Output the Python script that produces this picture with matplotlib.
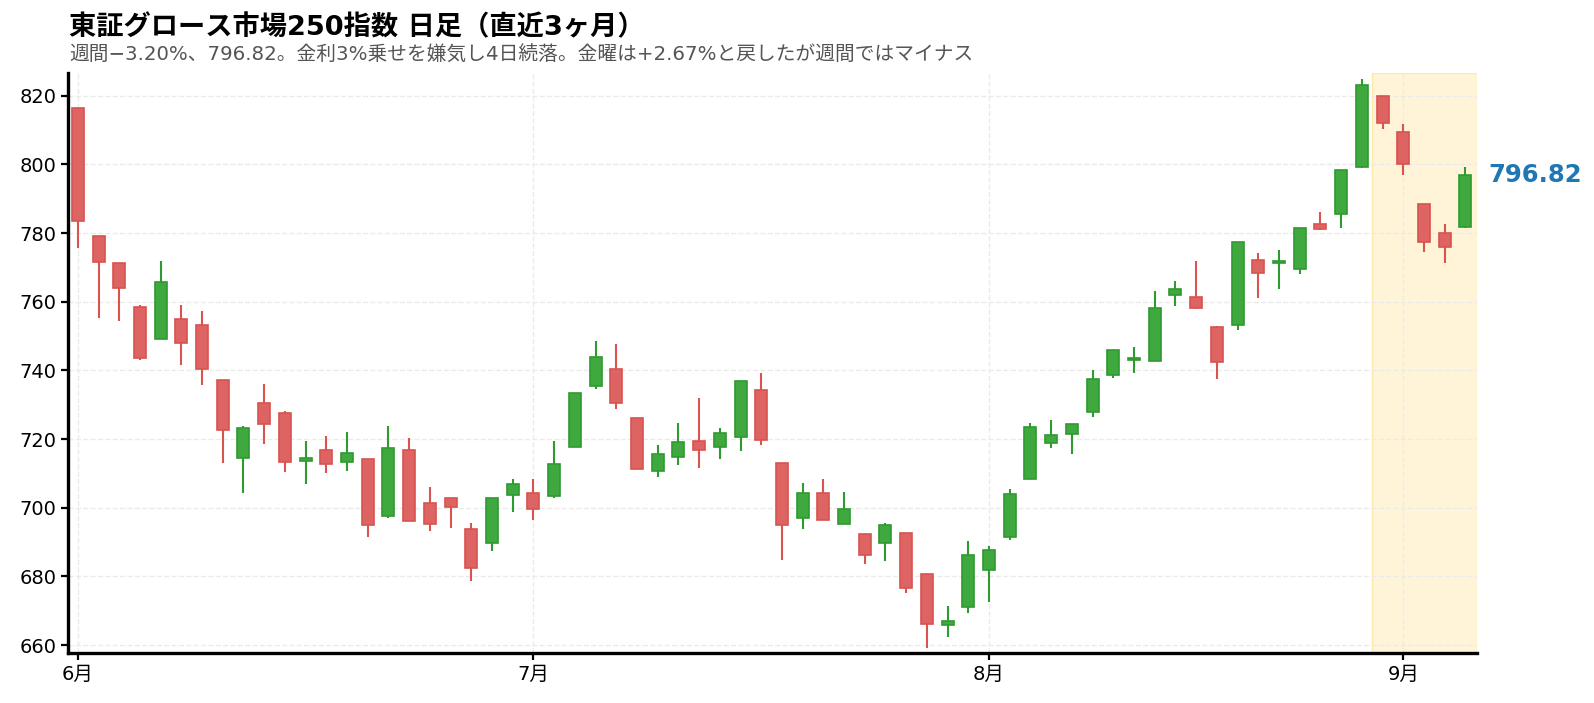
import matplotlib
matplotlib.use("Agg")
import matplotlib.pyplot as plt
import numpy as np

plt.rcParams['font.family'] = ['DejaVu Sans', 'Noto Sans CJK JP']

title = "東証グロース市場250指数 日足（直近3ヶ月）"
subtitle = "週間−3.20%、796.82。金利3%乗せを嫌気し4日続落。金曜は+2.67%と戻したが週間ではマイナス"

opens = [816.3, 779.0, 771.2, 758.4, 749.0, 755.0, 753.3, 737.1, 714.5, 730.5,
         727.6, 713.5, 716.8, 713.4, 714.2, 697.7, 716.8, 701.4, 702.7, 693.8,
         689.6, 703.6, 704.4, 703.5, 717.8, 735.6, 740.5, 726.1, 710.8, 714.9,
         719.4, 717.6, 720.7, 734.4, 713.1, 697.0, 704.3, 695.4, 692.3, 689.6,
         692.6, 680.7, 665.8, 671.2, 682.0, 691.6, 708.5, 719.0, 721.6, 728.0,
         738.7, 742.9, 742.8, 762.0, 761.5, 752.5, 753.1, 772.1, 771.3, 769.6,
         782.6, 785.6, 799.2, 819.8, 809.4, 788.4, 779.9, 781.8]
highs = [816.3, 779.0, 771.2, 759.1, 772.0, 758.9, 757.4, 737.1, 723.7, 736.1,
         728.2, 719.3, 720.8, 722.2, 714.2, 723.7, 720.2, 706.0, 702.7, 695.6,
         702.7, 708.3, 708.3, 719.3, 733.4, 748.7, 747.8, 726.1, 718.3, 724.8,
         732.1, 723.1, 736.8, 739.2, 713.1, 707.1, 708.3, 704.7, 692.3, 695.5,
         692.6, 680.7, 671.4, 690.2, 688.9, 705.5, 724.8, 725.7, 724.3, 740.2,
         745.8, 746.8, 763.1, 766.1, 772.0, 753.0, 777.4, 774.2, 775.1, 781.4,
         786.1, 798.3, 824.8, 819.8, 811.8, 788.4, 782.7, 799.3]
lows = [775.6, 755.2, 754.3, 743.0, 749.0, 741.5, 735.7, 713.0, 704.3, 718.6,
        710.4, 706.9, 710.1, 710.6, 691.5, 697.1, 696.2, 693.3, 694.1, 678.7,
        687.4, 698.7, 696.4, 702.9, 717.8, 734.6, 728.7, 711.4, 709.0, 712.4,
        711.5, 714.2, 716.5, 718.2, 684.8, 693.8, 696.5, 695.4, 683.6, 684.5,
        675.3, 659.2, 662.4, 669.4, 672.6, 690.5, 708.5, 717.4, 715.7, 726.5,
        737.7, 739.3, 742.8, 758.8, 758.0, 737.5, 751.7, 761.1, 763.7, 768.0,
        780.9, 781.4, 799.0, 810.2, 796.8, 774.5, 771.2, 781.5]
closes = [783.6, 771.7, 764.1, 743.7, 765.7, 748.1, 740.5, 722.5, 723.2, 724.5,
          713.2, 714.4, 712.7, 716.0, 695.1, 717.4, 696.2, 695.4, 700.1, 682.6,
          702.7, 707.0, 699.7, 712.8, 733.4, 743.9, 730.6, 711.4, 715.7, 719.2,
          716.9, 721.8, 736.8, 719.6, 695.1, 704.3, 696.5, 699.6, 686.1, 695.1,
          676.5, 666.1, 667.0, 686.3, 687.7, 704.1, 723.5, 721.1, 724.3, 737.5,
          745.8, 743.3, 758.1, 763.7, 758.2, 742.3, 777.4, 768.4, 771.5, 781.4,
          781.2, 798.3, 823.2, 812.1, 800.2, 777.5, 776.0, 796.82]

month_labels = ["6月", "7月", "8月", "9月"]
month_start_idx = [0, 22, 44, 64]
week_start_idx = 63
last_label = "796.82"

fig = plt.figure(figsize=(15.94, 7.03), dpi=100)
ax = fig.add_axes([0.0427, 0.0711, 0.884, 0.8248])

x = np.arange(len(opens))
up_face, up_edge = '#3fa83f', '#2f9a2f'
dn_face, dn_edge = '#dd6462', '#d9534f'
width = 0.58

for i in x:
    o, h, l, c = opens[i], highs[i], lows[i], closes[i]
    up = c >= o
    fc = up_face if up else dn_face
    ec = up_edge if up else dn_edge
    ax.vlines(i, l, h, color=ec, linewidth=1.5, zorder=2)
    bottom = min(o, c)
    hgt = max(abs(c - o), 0.6)
    ax.bar(i, hgt, bottom=bottom, width=width, color=fc, edgecolor=ec,
           linewidth=1.2, zorder=3)

ax.axvspan(week_start_idx - 0.5, len(opens) - 0.43, facecolor='#fff4d8',
           edgecolor='#ffe9a6', linewidth=1.0, zorder=0)

ax.set_xlim(-0.47, len(opens) - 0.43)
ax.set_ylim(657.7, 826.55)
ax.set_yticks(np.arange(660, 821, 20))
ax.set_xticks(month_start_idx)
ax.set_xticklabels(month_labels)
ax.tick_params(axis='both', labelsize=14, length=5, width=1.6, colors='black')
ax.grid(True, linestyle='--', color='#ebebeb', linewidth=1.0, zorder=0)
ax.set_axisbelow(True)
for s in ['top', 'right']:
    ax.spines[s].set_visible(False)
for s in ['left', 'bottom']:
    ax.spines[s].set_linewidth(2.4)

ax.annotate(last_label, xy=(1.0, closes[-1]), xycoords=('axes fraction', 'data'),
            xytext=(8, 0), textcoords='offset points', ha='left', va='center',
            fontsize=17.5, fontweight='bold', color='#1f77b4')

fig.text(0.0433, 0.950, title, fontsize=19.6, fontweight='bold', ha='left', va='baseline')
fig.text(0.0433, 0.913, subtitle, fontsize=14.2, color='#555555', ha='left', va='baseline')

fig.savefig('out.png', dpi=100)
